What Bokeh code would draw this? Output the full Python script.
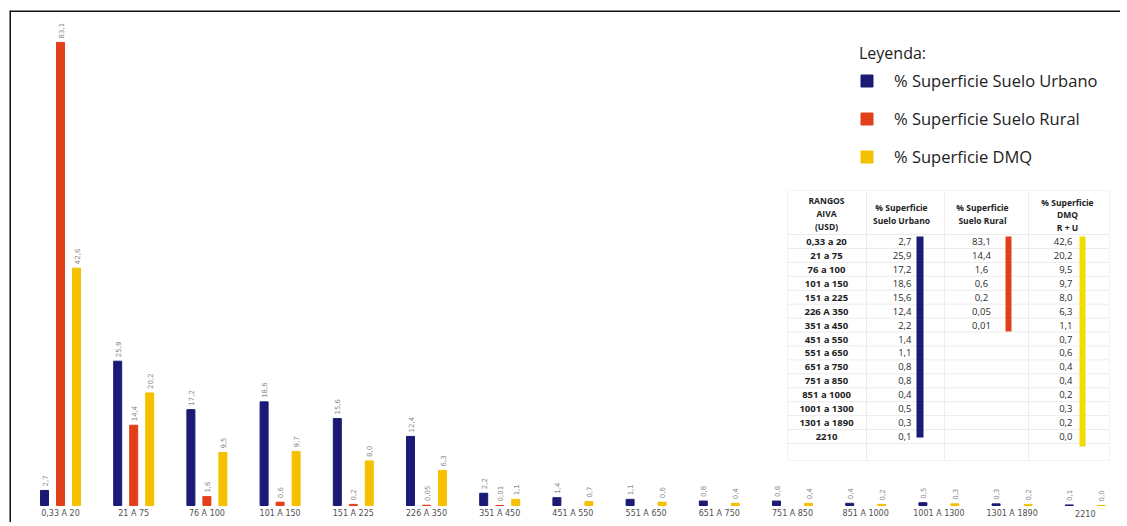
import numpy as np
from bokeh.plotting import figure
from bokeh.models import ColumnDataSource, Range1d, Legend, LegendItem, BoxAnnotation, Span
from bokeh.core.properties import value
from bokeh.embed import file_html
from bokeh.resources import INLINE

# ---------------- data ----------------
categories = ["0,33 A 20", "21 A 75", "76 A 100", "101 A 150", "151 A 225", "226 A 350",
              "351 A 450", "451 A 550", "551 A 650", "651 A 750", "751 A 850", "851 A 1000",
              "1001 A 1300", "1301 A 1890", "2210"]
table_ranges = ["0,33 a 20", "21 a 75", "76 a 100", "101 a 150", "151 a 225", "226 A 350",
                "351 a 450", "451 a 550", "551 a 650", "651 a 750", "751 a 850", "851 a 1000",
                "1001 a 1300", "1301 a 1890", "2210"]
urbano = [2.7, 25.9, 17.2, 18.6, 15.6, 12.4, 2.2, 1.4, 1.1, 0.8, 0.8, 0.4, 0.5, 0.3, 0.1]
rural = [83.1, 14.4, 1.6, 0.6, 0.2, 0.05, 0.01, None, None, None, None, None, None, None, None]
dmq = [42.6, 20.2, 9.5, 9.7, 8.0, 6.3, 1.1, 0.7, 0.6, 0.4, 0.4, 0.2, 0.3, 0.2, 0.0]
series_names = ["% Superficie Suelo Urbano", "% Superficie Suelo Rural", "% Superficie DMQ"]
legend_title = "Leyenda:"
table_headers = [["RANGOS", "AIVA", "(USD)"], ["% Superficie", "Suelo Urbano"],
                 ["% Superficie", "Suelo Rural"], ["% Superficie", "DMQ", "R + U"]]

# ---------------- style / layout ----------------
C_URB = "#1b1a74"
C_RUR = "#e2401b"
C_DMQ = "#f5c000"
C_DMQ_T = "#f2dc00"
FONT = "Open Sans"

W, H = 1120, 522
FL, FT = 9, 10               # min borders
FRAME_L = FL                 # page px of frame left
FRAME_T = FT                 # page px of frame top
PX_X = 73.2                  # px per category
PX_Y = 5.572                 # px per percent
X0 = -(60 - FRAME_L) / PX_X
X1 = X0 + (W - FL) / PX_X
Y1 = (505 - FRAME_T) / PX_Y
Y0 = Y1 - (H - FT) / PX_Y

def dx(px):
    return X0 + (px - FRAME_L) / PX_X

def dy(py):
    return Y1 - (py - FRAME_T) / PX_Y

def fmt(v):
    if v is None:
        return ""
    if 0 < v < 0.1:
        return f"{v:.2f}".replace(".", ",")
    return f"{v:.1f}".replace(".", ",")

p = figure(width=W, height=H, output_backend="svg", toolbar_location=None,
           x_range=Range1d(X0, X1), y_range=Range1d(Y0, Y1),
           min_border_left=FL, min_border_top=FT, min_border_right=0, min_border_bottom=0)
p.axis.visible = False
p.grid.visible = False
p.outline_line_color = None
p.background_fill_color = "white"

# inset table background (under the glyphs)
p.add_layout(BoxAnnotation(left=dx(787), right=dx(1109), top=dy(190), bottom=dy(460),
                           fill_color="white", fill_alpha=1, line_color="#d8d8d8", line_width=1,
                           level="underlay"))

idx = np.arange(len(categories))
off = 16 / PX_X
bw = 8 / PX_X

src_u = ColumnDataSource(dict(x=idx - off, top=urbano, lab=[fmt(v) for v in urbano]))
r_idx = [i for i, v in enumerate(rural) if v is not None]
src_r = ColumnDataSource(dict(x=[i for i in r_idx], top=[rural[i] for i in r_idx],
                              lab=[fmt(rural[i]) for i in r_idx]))
src_d = ColumnDataSource(dict(x=idx + off, top=dmq, lab=[fmt(v) for v in dmq]))

ru = p.vbar(x="x", top="top", bottom=0, width=bw, source=src_u, color=C_URB)
rr = p.vbar(x="x", top="top", bottom=0, width=bw, source=src_r, color=C_RUR)
rd = p.vbar(x="x", top="top", bottom=0, width=bw, source=src_d, color=C_DMQ)

for s in (src_u, src_r, src_d):
    p.text(x="x", y="top", text="lab", source=s, angle=np.pi / 2, text_align="left",
           text_baseline="middle", y_offset=-4, text_font_size="7px", text_color="#8a8a8a",
           text_font=value("DejaVu Sans"))

# category labels under the bars
p.text(x=idx, y=[0] * len(idx), text=categories, text_align="center", text_baseline="middle",
       y_offset=8, text_font_size="8px", text_color="#505050", text_font=value("DejaVu Sans"))

# frame borders (top and left)
p.add_layout(Span(location=Y1, dimension="width", line_color="#111111", line_width=3))
p.add_layout(Span(location=X0, dimension="height", line_color="#111111", line_width=3))

# ---------------- legend ----------------
legend = Legend(items=[LegendItem(label=series_names[0], renderers=[ru]),
                       LegendItem(label=series_names[1], renderers=[rr]),
                       LegendItem(label=series_names[2], renderers=[rd])],
                title=legend_title, location=(850, 354), orientation="vertical",
                glyph_width=15, glyph_height=15, label_standoff=20, spacing=15,
                padding=5, margin=0, title_standoff=5,
                label_text_font=FONT, label_text_font_size="16.5px", label_text_color="#222222",
                title_text_font=FONT, title_text_font_size="16px", title_text_font_style="normal",
                title_text_color="#222222",
                border_line_color=None, background_fill_alpha=0)
p.add_layout(legend)

# ---------------- inset table ----------------
row_y0 = 241
row_h = 13.93
n = len(table_ranges)
row_py = [row_y0 + i * row_h for i in range(n)]
# faint grid lines
hl = [row_y0 - row_h / 2 + i * row_h for i in range(n + 1)]
p.segment(x0=[dx(787)] * len(hl), x1=[dx(1109)] * len(hl), y0=[dy(v) for v in hl],
          y1=[dy(v) for v in hl], line_color="#ececec", line_width=1)
vl = [866, 944, 1028]
p.segment(x0=[dx(v) for v in vl], x1=[dx(v) for v in vl], y0=[dy(190)] * 3, y1=[dy(460)] * 3,
          line_color="#ececec", line_width=1)

hdr_x = [826, 901, 982, 1067]
hdr_y = [[200, 213, 226], [207, 220], [207, 220], [202, 214, 227]]
hx, hy, ht = [], [], []
for c, lines in enumerate(table_headers):
    for j, t in enumerate(lines):
        hx.append(dx(hdr_x[c])); hy.append(dy(hdr_y[c][j])); ht.append(t)
p.text(x=hx, y=hy, text=ht, text_align="center", text_baseline="middle",
       text_font_size="8.5px", text_font_style="bold", text_color="#222222", text_font=value(FONT))

ys = [dy(v) for v in row_py]
p.text(x=[dx(826)] * n, y=ys, text=table_ranges, text_align="center", text_baseline="middle",
       text_font_size="9.5px", text_font_style="bold", text_color="#222222", text_font=value(FONT))
p.text(x=[dx(911)] * n, y=ys, text=[fmt(v) for v in urbano], text_align="right",
       text_baseline="middle", text_font_size="9.5px", text_color="#2a2a2a", text_font=value(FONT))
rr_y = [ys[i] for i in r_idx]
p.text(x=[dx(981)] * len(rr_y), y=rr_y, text=[fmt(rural[i]) for i in r_idx], text_align="center",
       text_baseline="middle", text_font_size="9.5px", text_color="#2a2a2a", text_font=value(FONT))
p.text(x=[dx(1072)] * n, y=ys, text=[fmt(v) for v in dmq], text_align="right",
       text_baseline="middle", text_font_size="9.5px", text_color="#2a2a2a", text_font=value(FONT))

# coloured strips in the table
p.add_layout(BoxAnnotation(left=dx(916), right=dx(923), top=dy(236), bottom=dy(437),
                           fill_color=C_URB, fill_alpha=1, line_color=None))
p.add_layout(BoxAnnotation(left=dx(1005), right=dx(1011), top=dy(236), bottom=dy(331),
                           fill_color=C_RUR, fill_alpha=1, line_color=None))
p.add_layout(BoxAnnotation(left=dx(1079), right=dx(1085), top=dy(236), bottom=dy(446),
                           fill_color=C_DMQ_T, fill_alpha=1, line_color=None))

open("out.html", "w").write(file_html(p, INLINE))
